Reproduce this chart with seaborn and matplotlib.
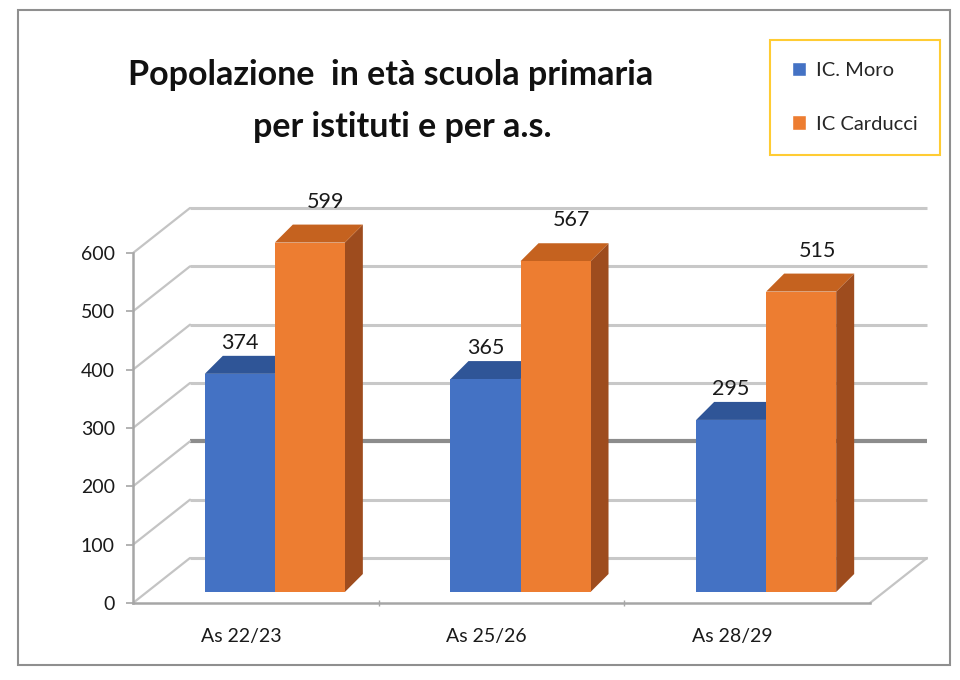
import matplotlib
matplotlib.use("Agg")
import matplotlib.pyplot as plt
import matplotlib.transforms as mtrans
from matplotlib.patches import Polygon, Rectangle
import pandas as pd
import seaborn as sns

# dati
anni = ["As 22/23", "As 25/26", "As 28/29"]
istituti = ["IC. Moro", "IC Carducci"]
moro = [374, 365, 295]
carducci = [599, 567, 515]
y_ticks = [0, 100, 200, 300, 400, 500, 600]

COLORI = ["#4472C4", "#ED7D31"]
TOP = ["#2F5597", "#C5621F"]
SIDE = ["#2A4C86", "#9E4C1E"]

sns.set_theme(style="white")
plt.rcParams["font.family"] = ["Lato", "DejaVu Sans"]

df = pd.DataFrame({
    "anno": anni * 2,
    "istituto": [istituti[0]] * len(anni) + [istituti[1]] * len(anni),
    "valore": moro + carducci,
})

W, H = 960, 680
fig = plt.figure(figsize=(W / 100, H / 100), dpi=100)
ax = fig.add_axes([133 / W, 77 / H, 737 / W, 350 / H])

sns.barplot(data=df, x="anno", y="valore", hue="istituto", palette=COLORI,
            width=0.57, saturation=1, ax=ax, zorder=3)
ax.set_xlim(-0.5, len(anni) - 0.5)
ax.set_ylim(0, 600)

# conversione pixel -> dati (asse lineare, posizione fissa)
px_x = (len(anni)) / 737
px_y = 600 / 350

def off(dx_px, dy_px):
    return dx_px * px_x, dy_px * px_y

wall_dx, wall_dy = off(57, 45)   # profondita' parete di fondo
bar_dx, bar_dy = off(19, 11)     # posizione delle barre nella profondita'
dep_dx, dep_dy = off(18, 18)     # spessore delle barre

x0, x1 = ax.get_xlim()

# griglia: parete laterale + parete di fondo
for t in y_ticks:
    dark = t == 200
    col = "#8c8c8c" if dark else "#c8c8c8"
    ax.plot([x0 + wall_dx, x1 + wall_dx], [t + wall_dy, t + wall_dy],
            color=col, lw=3 if dark else 2.2, clip_on=False, zorder=0.5,
            solid_capstyle="butt")
    ax.plot([x0, x0 + wall_dx], [t, t + wall_dy], color="#c4c4c4", lw=1.6,
            clip_on=False, zorder=0.6)
# bordo destro del pavimento
ax.plot([x1, x1 + wall_dx], [0, wall_dy], color="#c4c4c4", lw=1.6,
        clip_on=False, zorder=0.6)

# barre in finto 3D
for k, cont in enumerate(ax.containers):
    for rect in cont:
        rect.set_x(rect.get_x() + bar_dx)
        rect.set_y(bar_dy)
        rect.set_edgecolor("none")
        rect.set_clip_on(False)
        x, w, h = rect.get_x(), rect.get_width(), rect.get_height()
        bot, top = bar_dy, bar_dy + h
        ax.add_patch(Polygon([(x, top), (x + w, top), (x + w + dep_dx, top + dep_dy),
                              (x + dep_dx, top + dep_dy)], closed=True,
                             facecolor=TOP[k], edgecolor="none", zorder=2.5 + k,
                             clip_on=False))
        if k == len(ax.containers) - 1:
            ax.add_patch(Polygon([(x + w, bot), (x + w, top), (x + w + dep_dx, top + dep_dy),
                                  (x + w + dep_dx, bot + dep_dy)], closed=True,
                                 facecolor=SIDE[k], edgecolor="none", zorder=2.5,
                                 clip_on=False))
        rect.set_zorder(3 + k)
        shift = 0 if k == 0 else 16
        lift = 3 if k == 0 else 13
        ax.annotate(f"{h:.0f}", (x + w / 2, top + dep_dy), xytext=(shift * 0.72, lift * 0.72),
                    textcoords="offset points", ha="center", va="bottom",
                    fontsize=15.5, color="#1a1a1a", annotation_clip=False, zorder=6)

# assi
for s in ["top", "right"]:
    ax.spines[s].set_visible(False)
for s in ["left", "bottom"]:
    ax.spines[s].set_color("#a6a6a6")
    ax.spines[s].set_linewidth(1.8)
    ax.spines[s].set_zorder(4)
ax.set_yticks(y_ticks)
ax.tick_params(axis="y", length=5, color="#a6a6a6", width=1.2, pad=8,
               labelsize=14, labelcolor="#1a1a1a", left=True)
ax.tick_params(axis="x", length=0, pad=18, labelsize=14, labelcolor="#1a1a1a")
ax.set_xticks([i + 0.5 for i in range(len(anni) - 1)], minor=True)
ax.tick_params(axis="x", which="minor", length=4, direction="inout",
               color="#a6a6a6", bottom=True)
ax.set_xlabel("")
ax.set_ylabel("")
ax.grid(False)
sposta = mtrans.ScaledTranslation(-15 / 100, 0, fig.dpi_scale_trans)
for lab in ax.get_xticklabels():
    lab.set_transform(lab.get_transform() + sposta)

# legenda
handles, labels = ax.get_legend_handles_labels()
leg = ax.legend(handles, labels, loc="upper right", bbox_to_anchor=(940 / W, 1 - 40 / H),
                bbox_transform=fig.transFigure, frameon=True, fancybox=False,
                fontsize=14.5, labelspacing=1.8, handlelength=0.7, handleheight=0.7,
                handletextpad=0.5, borderpad=1.1, borderaxespad=0)
leg.get_frame().set_edgecolor("#FFC000")
leg.get_frame().set_linewidth(1.5)

# titolo
fig.text(391 / W, 1 - 75 / H, "Popolazione  in età scuola primaria", ha="center",
         va="center", fontsize=24.5, fontweight="bold", color="#111111")
fig.text(402 / W, 1 - 127 / H, "per istituti e per a.s.", ha="center",
         va="center", fontsize=24.5, fontweight="bold", color="#111111")

# cornice esterna
fig.patches.append(Rectangle((18 / W, 15 / H), (950 - 18) / W, (665 - 10) / H,
                             transform=fig.transFigure, fill=False,
                             edgecolor="#8f8f8f", lw=1.5))

fig.savefig("out.png", dpi=100)
